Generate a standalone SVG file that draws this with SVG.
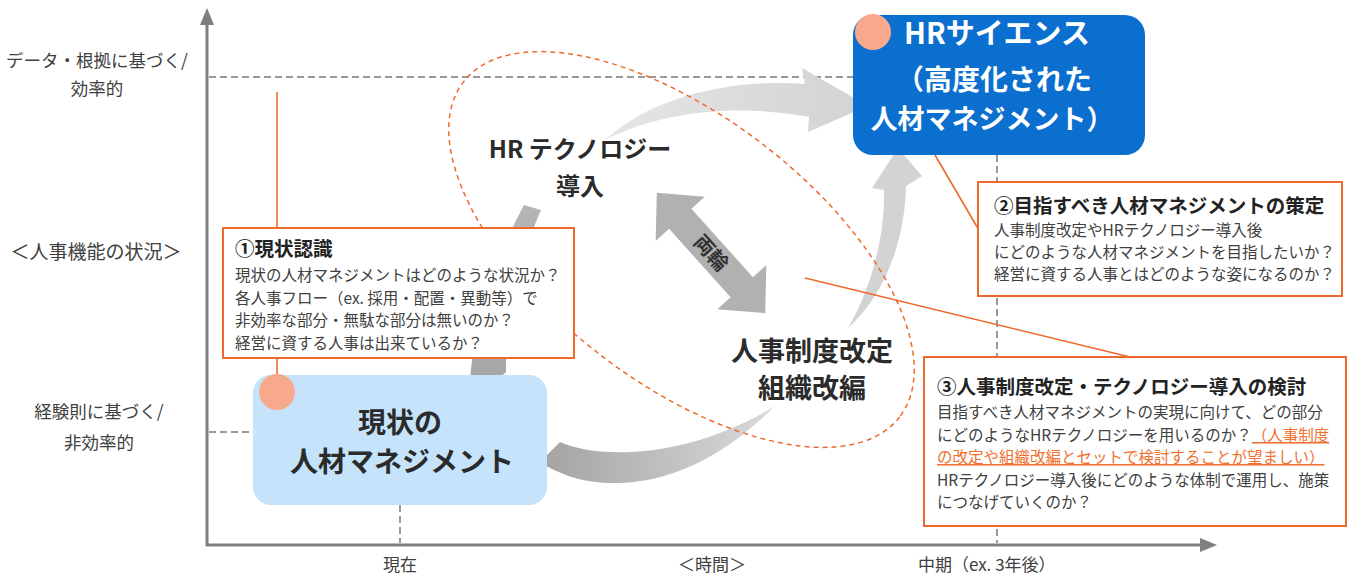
<svg xmlns="http://www.w3.org/2000/svg" width="1350" height="577" viewBox="0 0 1350 577">
<defs>
<style>
text{font-family:"Noto Sans CJK JP","Noto Sans CJK SC",sans-serif;}
.ax{font-size:17px;fill:#404040;}
.axm{font-size:17px;fill:#404040;text-anchor:middle;}
.body{font-size:15.5px;fill:#404040;}
.ttl{font-size:19.5px;font-weight:700;fill:#222;}
.box{fill:#fff;stroke:#ee6a2c;stroke-width:2;}
.guide{stroke:#9a9a9a;stroke-width:2;stroke-dasharray:7 4;fill:none;}
.axis{stroke:#7f7f7f;stroke-width:3;fill:none;}
.olink{stroke:#ee6a2c;stroke-width:1.6;fill:none;}
.dot{fill:#f8a98b;}
.big{font-weight:700;text-anchor:middle;fill:#2b2b2b;}
.hl{fill:#f0702e;text-decoration:underline;}
</style>
<linearGradient id="gC" x1="540" y1="0" x2="775" y2="0" gradientUnits="userSpaceOnUse"><stop offset="0" stop-color="#a3a3a3"/><stop offset="1" stop-color="#dadada"/></linearGradient>
<linearGradient id="gB" x1="600" y1="0" x2="860" y2="0" gradientUnits="userSpaceOnUse"><stop offset="0" stop-color="#e6e6e6"/><stop offset="1" stop-color="#d3d3d3"/></linearGradient>
<linearGradient id="gA" x1="0" y1="390" x2="0" y2="205" gradientUnits="userSpaceOnUse"><stop offset="0" stop-color="#a6a6a6"/><stop offset="1" stop-color="#b5b5b5"/></linearGradient>
</defs>

<g id="axes">
<line class="axis" x1="207" y1="546" x2="207" y2="22"/>
<polygon points="207,8 200,25 214,25" fill="#7f7f7f"/>
<line class="axis" x1="206" y1="545" x2="1202" y2="545"/>
<polygon points="1217,545 1200,538 1200,552" fill="#7f7f7f"/>
<text class="axm" x="97" y="67" style="font-size:17.5px">データ・根拠に基づく/</text>
<text class="axm" x="97" y="95" style="font-size:17.5px">効率的</text>
<text class="axm" x="96" y="259" style="font-size:19px">＜人事機能の状況＞</text>
<text class="axm" x="99" y="418" style="font-size:17.5px">経験則に基づく/</text>
<text class="axm" x="99" y="449" style="font-size:17.5px">非効率的</text>
<text class="axm" x="400" y="571">現在</text>
<text class="axm" x="712" y="571">＜時間＞</text>
<text class="ax" x="918" y="571">中期（ex. 3年後）</text>
</g>

<g id="guides">
<line class="guide" x1="209" y1="77" x2="853" y2="77"/>
<line class="guide" x1="209" y1="432" x2="253" y2="432"/>
<line class="guide" x1="400" y1="505" x2="400" y2="543"/>
<line class="guide" x1="997" y1="155" x2="997" y2="543"/>
</g>

<g id="connectors">
<path id="arc-a" d="M470,378 Q478,290 524,205 L541,210 Q505,290 506,372 L482,394 Z" fill="url(#gA)"/>
<path id="arc-b" d="M605,140 C650,98 730,78 805,84 L802,68 L868,106 L808,132 L809,117 C740,104 665,110 605,140 Z" fill="url(#gB)"/>
<path id="arc-c" d="M540,462 L560,442 C600,460 690,458 775,406 C740,440 690,480 620,483 C585,484 560,475 540,462 Z" fill="url(#gC)"/>
<path id="arc-d" d="M848,328 C870,290 885,240 884,190 L872,188 L898,148 L922,176 L906,186 C905,240 885,295 848,328 Z" fill="#d3d3d3"/>
<g id="ryourin" transform="translate(711,253) rotate(48)">
<polygon points="-81,0 -46,-33 -46,-15 46,-15 46,-33 81,0 46,33 46,15 -46,15 -46,33" fill="#b1b1b1"/>
<text x="0" y="7" text-anchor="middle" style="font-size:20px;font-weight:700;fill:#333">両輪</text>
</g>
<ellipse cx="681.5" cy="249.5" rx="275" ry="133" transform="rotate(37.5 681.5 249.5)" fill="none" stroke="#ee6a2c" stroke-width="1.5" stroke-dasharray="5 4"/>
<line class="olink" x1="277" y1="92" x2="277" y2="376"/>
<line class="olink" x1="935" y1="155" x2="980" y2="232"/>
<line class="olink" x1="805" y1="278" x2="1130" y2="357"/>
</g>

<g id="label-hrtech">
<text class="big" x="580" y="158" style="font-size:24px">HR テクノロジー</text>
<text class="big" x="580" y="195" style="font-size:24px">導入</text>
</g>
<g id="label-seido">
<text class="big" x="812" y="361" style="font-size:27px">人事制度改定</text>
<text class="big" x="812" y="398" style="font-size:27px">組織改編</text>
</g>

<g id="node-hrscience">
<rect x="853" y="15" width="292" height="140" rx="20" fill="#0b6fcf"/>
<circle class="dot" cx="873" cy="32" r="18"/>
<text x="997" y="44" text-anchor="middle" style="font-size:29px;font-weight:700;fill:#fff">HRサイエンス</text>
<text x="994" y="90" text-anchor="middle" style="font-size:28px;font-weight:700;fill:#fff">（高度化された</text>
<text x="992" y="129" text-anchor="middle" style="font-size:27px;font-weight:700;fill:#fff">人材マネジメント）</text>
</g>

<g id="node-current">
<rect x="253" y="375" width="294" height="130" rx="18" fill="#c5e4fb"/>
<circle class="dot" cx="277" cy="392" r="18"/>
<text class="big" x="400" y="433" style="font-size:28px">現状の</text>
<text class="big" x="402" y="472" style="font-size:28px">人材マネジメント</text>
</g>

<g id="node-step1">
<rect class="box" x="223" y="228" width="351" height="130"/>
<text class="ttl" x="235" y="256">①現状認識</text>
<text class="body" x="235" y="281">現状の人材マネジメントはどのような状況か？</text>
<text class="body" x="235" y="304">各人事フロー（ex. 採用・配置・異動等）で</text>
<text class="body" x="235" y="326">非効率な部分・無駄な部分は無いのか？</text>
<text class="body" x="235" y="349">経営に資する人事は出来ているか？</text>
</g>

<g id="node-step2">
<rect class="box" x="978" y="182" width="364" height="114"/>
<text class="ttl" x="994" y="213">②目指すべき人材マネジメントの策定</text>
<text class="body" x="994" y="236">人事制度改定やHRテクノロジー導入後</text>
<text class="body" x="994" y="258">にどのような人材マネジメントを目指したいか？</text>
<text class="body" x="994" y="280">経営に資する人事とはどのような姿になるのか？</text>
</g>

<g id="node-step3">
<rect class="box" x="924" y="357" width="422" height="169"/>
<text class="ttl" x="937" y="394">③人事制度改定・テクノロジー導入の検討</text>
<text class="body" x="937" y="418">目指すべき人材マネジメントの実現に向けて、どの部分</text>
<text class="body" x="937" y="441">にどのようなHRテクノロジーを用いるのか？<tspan class="hl">（人事制度</tspan></text>
<text class="body" x="937" y="463"><tspan class="hl">の改定や組織改編とセットで検討することが望ましい）</tspan></text>
<text class="body" x="937" y="486">HRテクノロジー導入後にどのような体制で運用し、施策</text>
<text class="body" x="937" y="508">につなげていくのか？</text>
</g>
</svg>
